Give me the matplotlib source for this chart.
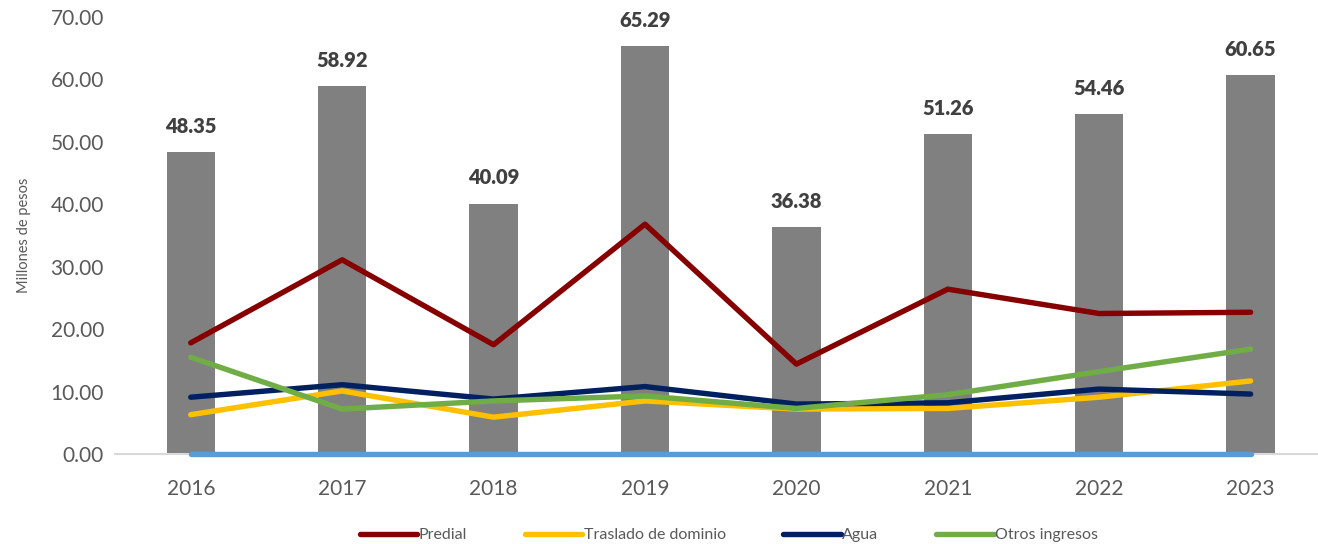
import numpy as np
import matplotlib
matplotlib.use("Agg")
import matplotlib.pyplot as plt

plt.rcParams['font.family'] = ['Lato', 'DejaVu Sans']

years = ['2016', '2017', '2018', '2019', '2020', '2021', '2022', '2023']
total = [48.35, 58.92, 40.09, 65.29, 36.38, 51.26, 54.46, 60.65]
predial = [17.8, 31.1, 17.5, 36.8, 14.4, 26.4, 22.5, 22.7]
traslado = [6.3, 10.1, 5.9, 8.5, 7.2, 7.3, 9.1, 11.7]
agua = [9.1, 11.1, 8.8, 10.8, 8.0, 8.2, 10.4, 9.6]
otros = [15.5, 7.2, 8.5, 9.3, 7.3, 9.5, 13.2, 16.8]
cero = [0, 0, 0, 0, 0, 0, 0, 0]

fig = plt.figure(figsize=(13.18, 5.44), dpi=100)
ax = fig.add_axes([0.0873, 0.1654, 0.919, 0.8036])

x = np.arange(len(years))
ax.bar(x, total, width=0.32, color='#808080', zorder=1)
for xi, v in zip(x, total):
    ax.text(xi, v + 2.6, f'{v:.2f}', ha='center', va='bottom',
            fontsize=14.5, fontweight='heavy', color='#404040')

lw = 3.9
ax.plot(x, predial, color='#860000', lw=lw, solid_capstyle='round', label='Predial', zorder=3)
ax.plot(x, traslado, color='#FFC000', lw=lw, solid_capstyle='round', label='Traslado de dominio', zorder=3)
ax.plot(x, agua, color='#002060', lw=lw, solid_capstyle='round', label='Agua', zorder=3)
ax.plot(x, otros, color='#70AD47', lw=lw, solid_capstyle='round', label='Otros ingresos', zorder=3)
ax.plot(x, cero, color='#5B9BD5', lw=lw, solid_capstyle='round', zorder=3, clip_on=False)

ax.set_xlim(-0.5, 7.5)
ax.set_ylim(0, 70)
ax.set_yticks(np.arange(0, 71, 10))
ax.set_yticklabels([f'{v:.2f}' for v in np.arange(0, 71, 10)])
ax.set_xticks(x)
ax.set_xticklabels(years)
ax.tick_params(axis='both', length=0, labelsize=15, colors='#595959')
ax.tick_params(axis='x', pad=18)
ax.tick_params(axis='y', pad=8)
for s in ['top', 'right', 'left']:
    ax.spines[s].set_visible(False)
ax.spines['bottom'].set_color('#D9D9D9')
ax.spines['bottom'].set_linewidth(1.5)
ax.set_ylabel('Millones de pesos', fontsize=10.5, color='#595959', labelpad=14)

fig.legend(loc='center', bbox_to_anchor=(0.553, 0.0165), ncol=4, frameon=False,
           fontsize=11.5, handlelength=3.6, handletextpad=0.1, columnspacing=3.6,
           labelcolor='#595959')

fig.savefig('out.png', dpi=100)
